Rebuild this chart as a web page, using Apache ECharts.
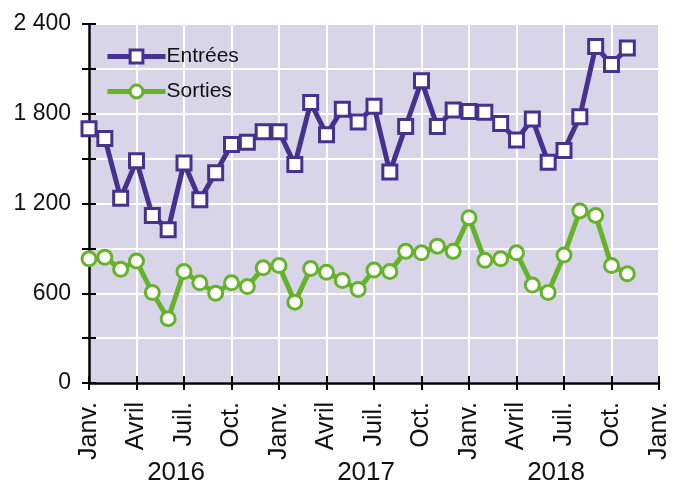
<!DOCTYPE html>
<html>
<head>
<meta charset="utf-8">
<script src="https://cdn.jsdelivr.net/npm/echarts@6/dist/echarts.min.js"></script>
<style>
  html, body { margin: 0; padding: 0; background: #fff; }
  #chart { width: 681px; height: 484px; }
</style>
</head>
<body>
<div id="chart"></div>
<script>
// mois de janv. 2016 a janv. 2019
var moisNoms = ['Janv.', 'Févr.', 'Mars', 'Avril', 'Mai', 'Juin', 'Juil.', 'Août', 'Sept.', 'Oct.', 'Nov.', 'Déc.'];
var annees = ['2016', '2017', '2018'];

var entrees = [1700, 1635, 1235, 1485, 1120, 1025, 1470, 1225, 1405, 1595, 1610, 1680,
               1680, 1460, 1875, 1660, 1830, 1745, 1850, 1410, 1715, 2020, 1715, 1825,
               1815, 1810, 1735, 1625, 1765, 1475, 1555, 1780, 2250, 2130, 2240];
var sorties = [830, 840, 760, 815, 605, 430, 745, 670, 600, 670, 645, 770,
               785, 540, 765, 740, 685, 625, 755, 745, 880, 870, 915, 880,
               1105, 820, 830, 870, 655, 605, 855, 1150, 1120, 785, 730];

var mois = [];
annees.forEach(function (a) { moisNoms.forEach(function (m) { mois.push(m); }); });
mois.push('Janv.');

// categories pour les annees (une par mois, centrees)
var moisAnnee = [];
annees.forEach(function (a) { for (var i = 0; i < 12; i++) moisAnnee.push(a); });

function fmt(v) {
  return String(v).replace(/\B(?=(\d{3})+(?!\d))/g, ' ');
}

var police = 'Liberation Sans';
var chart = echarts.init(document.getElementById('chart'));

chart.setOption({
  backgroundColor: '#fff',
  animation: false,
  textStyle: { fontFamily: police },
  grid: {
    left: 89, right: 22, top: 24, bottom: 101,
    outerBoundsMode: 'none',
    containLabel: false,
    show: true, backgroundColor: '#d9d5e9', borderWidth: 0
  },
  legend: {
    orient: 'vertical',
    left: 100, top: 41,
    itemWidth: 58, itemHeight: 16, itemGap: 14,
    lineStyle: { width: 5 },
    itemStyle: { borderWidth: 3 },
    textStyle: { fontSize: 21, color: '#111', fontFamily: police, padding: [0, 0, 0, -4] },
    data: ['Entrées', 'Sorties']
  },
  xAxis: [{
    type: 'category',
    data: mois,
    boundaryGap: false,
    axisLine: { lineStyle: { color: '#000', width: 2.5 } },
    axisTick: { interval: 2, length: 7, lineStyle: { color: '#000', width: 2 } },
    axisLabel: { interval: 2, rotate: 90, margin: 19, fontSize: 25, color: '#111', fontFamily: police },
    splitLine: { show: true, interval: 2, lineStyle: { color: '#fff', width: 2 } }
  }, {
    type: 'category',
    data: mois,
    boundaryGap: false,
    position: 'bottom',
    axisLine: { show: false },
    axisTick: { inside: true, interval: 2, length: 7, lineStyle: { color: '#000', width: 2 } },
    axisLabel: { show: false },
    splitLine: { show: false }
  }, {
    type: 'category',
    data: moisAnnee,
    boundaryGap: true,
    position: 'bottom',
    offset: 72,
    axisLine: { show: false },
    axisTick: { show: false },
    axisLabel: {
      margin: 5, fontSize: 26, color: '#111', fontFamily: police,
      interval: function (i) { return i % 12 === 5; }
    },
    splitLine: { show: false }
  }],
  yAxis: [{
    type: 'value',
    min: 0, max: 2400, interval: 300,
    axisLine: { show: true, lineStyle: { color: '#000', width: 2.5 } },
    axisTick: { show: true, length: 7, lineStyle: { color: '#000', width: 2 } },
    axisLabel: {
      margin: 18, fontSize: 23, color: '#111', fontFamily: police,
      formatter: function (v) { return v % 600 === 0 ? fmt(v) : ''; }
    },
    splitLine: { show: true, lineStyle: { color: '#fff', width: 2 } }
  }, {
    type: 'value',
    min: 0, max: 2400, interval: 300,
    position: 'left',
    axisLine: { show: false },
    axisTick: { show: true, inside: true, length: 7, lineStyle: { color: '#000', width: 2 } },
    axisLabel: { show: false },
    splitLine: { show: false }
  }],
  series: [{
    name: 'Entrées',
    type: 'line',
    data: entrees,
    symbol: 'rect',
    symbolSize: 14,
    showAllSymbol: true,
    lineStyle: { color: '#46318f', width: 5 },
    itemStyle: { color: '#fff', borderColor: '#46318f', borderWidth: 3 },
    z: 3
  }, {
    name: 'Sorties',
    type: 'line',
    data: sorties,
    symbol: 'circle',
    symbolSize: 14,
    showAllSymbol: true,
    lineStyle: { color: '#65b32b', width: 5 },
    itemStyle: { color: '#fff', borderColor: '#65b32b', borderWidth: 3 },
    z: 2
  }]
});
</script>
</body>
</html>
